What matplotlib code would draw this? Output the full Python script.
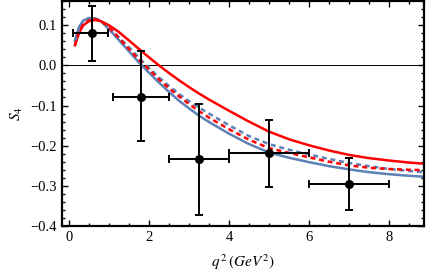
import numpy as np
import matplotlib.pyplot as plt
from matplotlib.ticker import MultipleLocator

plt.rcParams['font.family'] = ['Liberation Serif', 'DejaVu Serif']
plt.rcParams['mathtext.fontset'] = 'stix'

# theory curves, S4 vs q^2
q2 = [0.15, 0.25, 0.35, 0.5, 0.65, 0.8, 1.0, 1.25, 1.5, 1.75, 2.0, 2.25, 2.5, 2.75,
      3.0, 3.25, 3.5, 4.0, 4.5, 5.0, 5.5, 6.0, 6.5, 7.0, 7.5, 8.0, 8.5, 9.0]
red_solid = [0.050, 0.080, 0.099, 0.110, 0.113, 0.110, 0.100, 0.083, 0.062, 0.041, 0.020,
             0.000, -0.019, -0.037, -0.054, -0.070, -0.085, -0.113, -0.140, -0.165,
             -0.184, -0.199, -0.212, -0.223, -0.231, -0.237, -0.242, -0.246]
blue_solid = [0.062, 0.095, 0.111, 0.118, 0.117, 0.110, 0.090, 0.063, 0.035, 0.007, -0.018,
              -0.043, -0.066, -0.088, -0.107, -0.125, -0.141, -0.170, -0.196, -0.217,
              -0.230, -0.241, -0.251, -0.259, -0.266, -0.271, -0.275, -0.278]
blue_dashed = [0.058, 0.092, 0.109, 0.117, 0.117, 0.111, 0.094, 0.070, 0.045, 0.019, -0.006,
               -0.030, -0.051, -0.071, -0.089, -0.105, -0.120, -0.149, -0.176, -0.196,
               -0.210, -0.222, -0.233, -0.243, -0.251, -0.258, -0.263, -0.267]
red_dashed = [0.050, 0.082, 0.101, 0.112, 0.115, 0.111, 0.095, 0.068, 0.041, 0.014, -0.010,
              -0.035, -0.057, -0.077, -0.096, -0.114, -0.130, -0.159, -0.185, -0.206,
              -0.218, -0.229, -0.240, -0.249, -0.255, -0.258, -0.260, -0.261]

# measured points
x_pts = [0.57, 1.8, 3.25, 5.0, 7.0]
x_lo = [0.1, 1.1, 2.5, 4.0, 6.0]
x_hi = [0.98, 2.5, 4.0, 6.0, 8.0]
y_pts = [0.080, -0.079, -0.234, -0.219, -0.296]
y_hi = [0.149, 0.035, -0.096, -0.135, -0.230]
y_lo = [0.012, -0.189, -0.373, -0.304, -0.361]

red = '#ff0000'
blue = '#5e81b5'

fig = plt.figure(figsize=(4.27, 2.79), dpi=100)
ax = fig.add_axes([0.145, 0.19, 0.848, 0.806])

ax.axhline(0, color='black', lw=0.7, zorder=1)

ax.plot(q2, blue_solid, color=blue, lw=1.8, zorder=2)
ax.plot(q2, red_solid, color=red, lw=1.8, zorder=2)
ax.plot(q2, blue_dashed, color=blue, lw=1.8, ls=(0, (2, 1.5)), zorder=2)
ax.plot(q2, red_dashed, color=red, lw=1.8, ls=(0, (2, 1.5)), zorder=2)

x = np.array(x_pts)
y = np.array(y_pts)
xerr = [x - np.array(x_lo), np.array(x_hi) - x]
yerr = [y - np.array(y_lo), np.array(y_hi) - y]
ax.errorbar(x, y, xerr=xerr, yerr=yerr, fmt='o', color='black', ms=5.5,
            elinewidth=1.4, capsize=2.8, capthick=1.4, zorder=3)

ax.set_xlim(-0.175, 8.875)
ax.set_ylim(-0.4, 0.16)

ax.xaxis.set_major_locator(MultipleLocator(2))
ax.xaxis.set_minor_locator(MultipleLocator(0.5))
ax.yaxis.set_major_locator(MultipleLocator(0.1))
ax.yaxis.set_minor_locator(MultipleLocator(0.02))
ax.tick_params(which='both', direction='in', top=True, right=True, labelsize=10.5)
ax.tick_params(which='major', length=4, width=1)
ax.tick_params(which='minor', length=2.5, width=1)
ax.yaxis.set_major_formatter(plt.FuncFormatter(lambda v, p: f'{v:.1f}'.replace('-', '\u2212')))

for s in ax.spines.values():
    s.set_linewidth(1.6)

ax.set_ylabel(r'$S_4$', fontsize=11, labelpad=4)
ax.set_xlabel(r'$q^{\,2}\,(GeV^2)$', fontsize=11, labelpad=6)

fig.savefig('out.png', dpi=100)
